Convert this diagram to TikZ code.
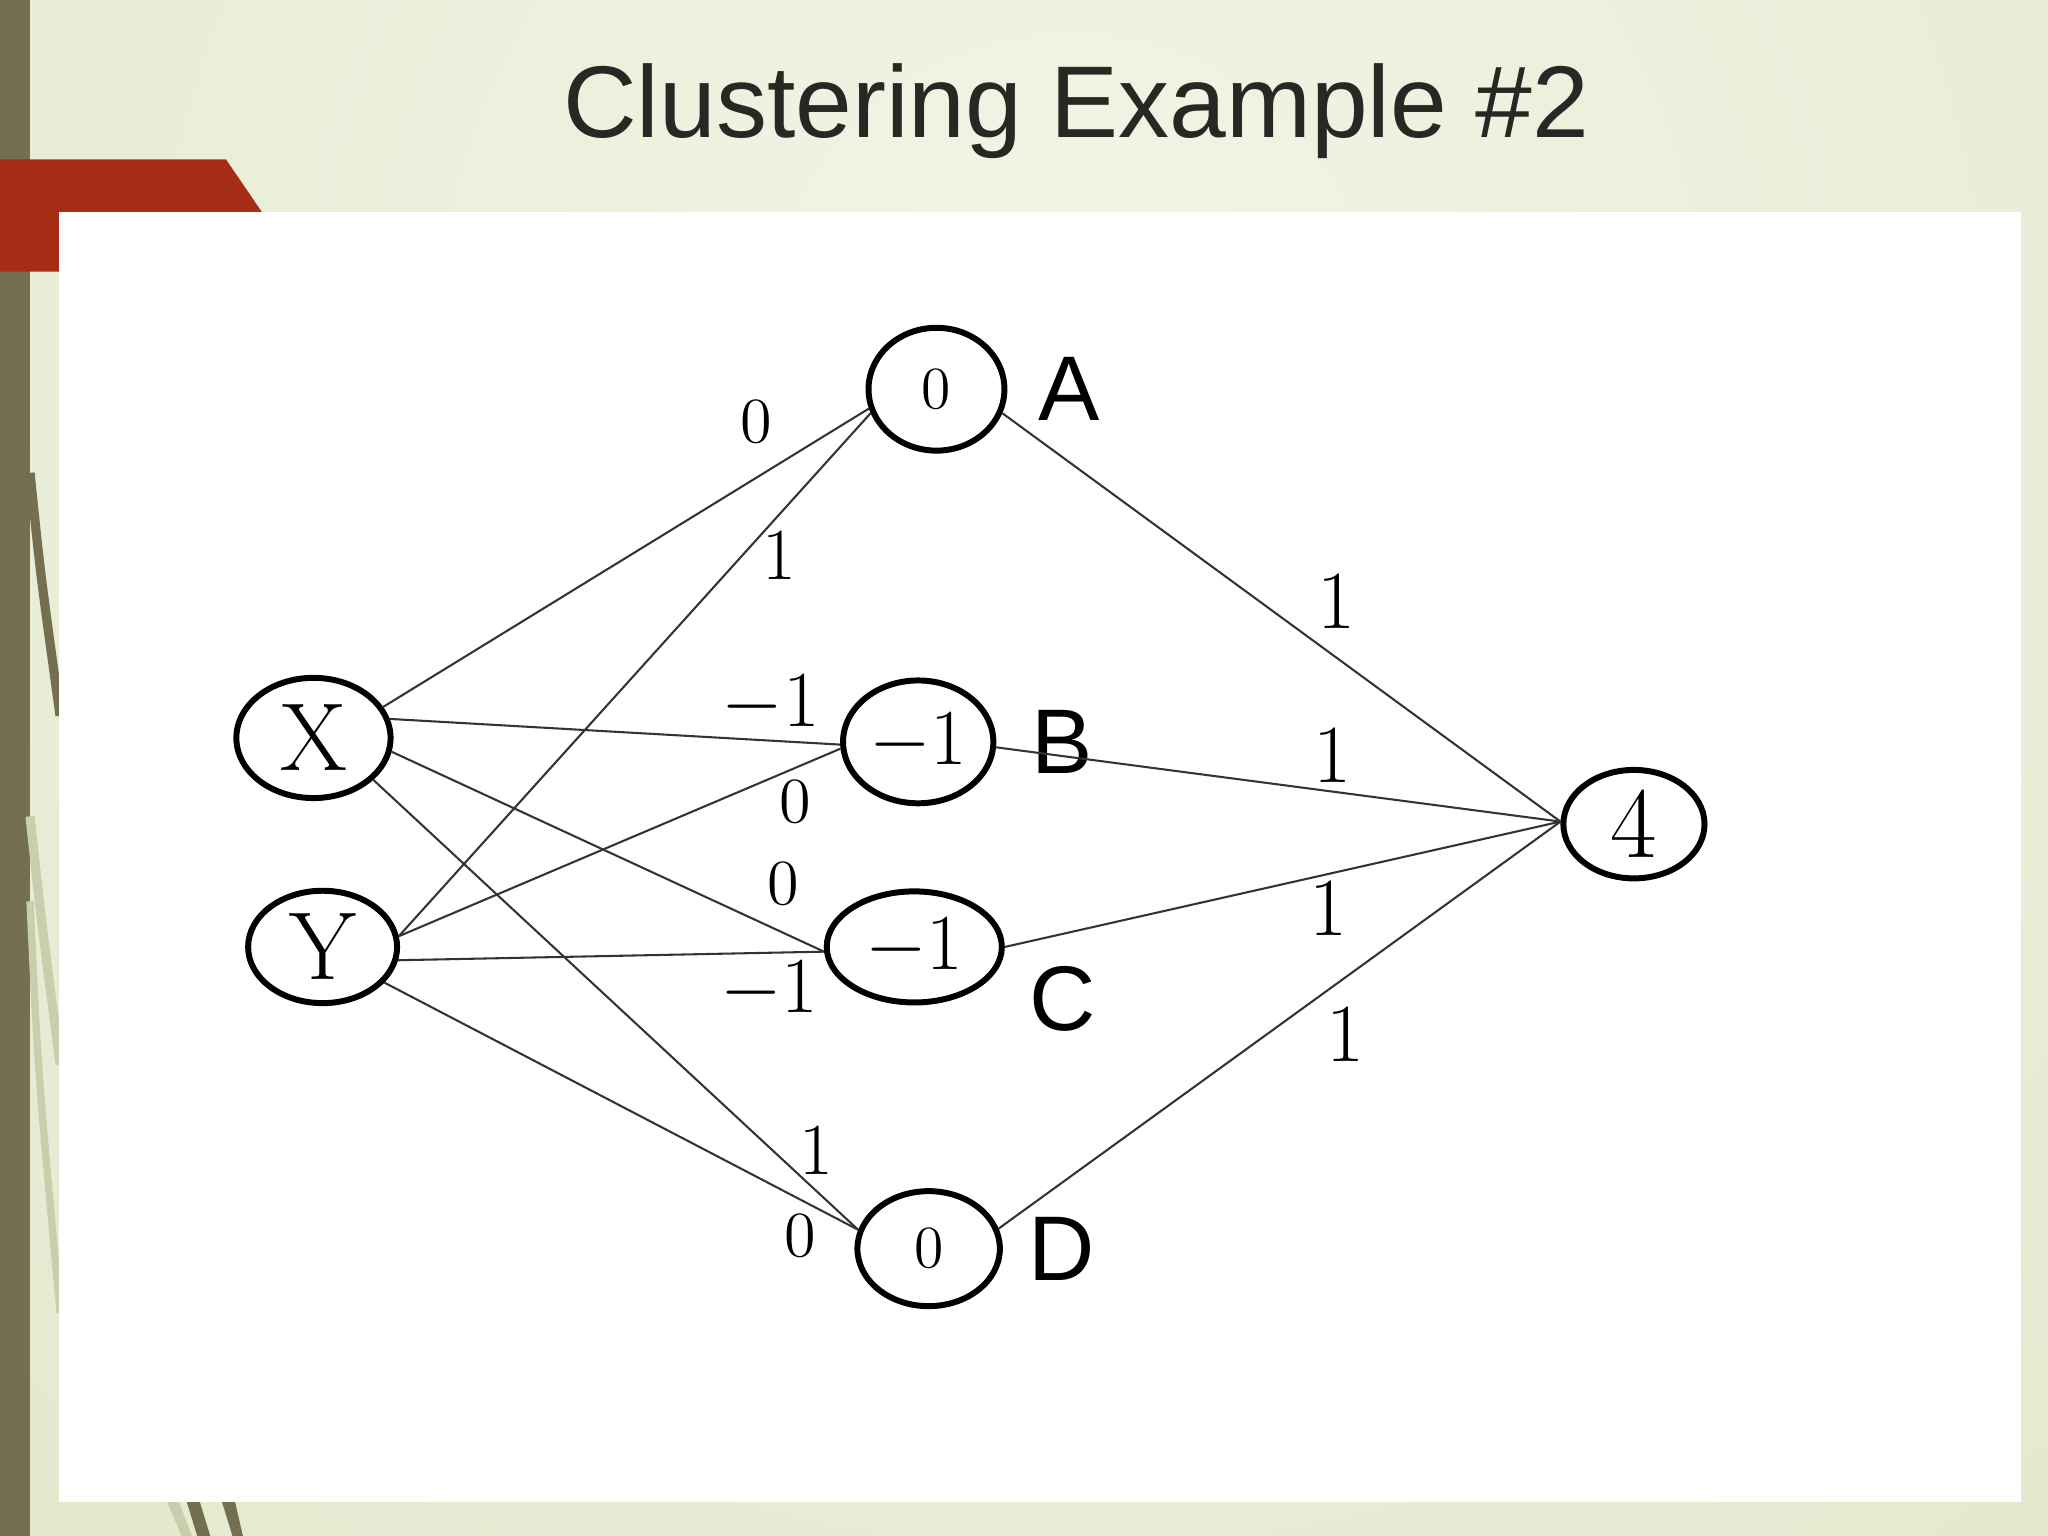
\documentclass[tikz,border=0pt]{standalone}
\usepackage{fontspec}
\usepackage{tikz}
\usetikzlibrary{positioning,shapes.geometric}
\newfontfamily\slidefont{Liberation Sans}
\definecolor{bgdark}{RGB}{224,231,201}
\definecolor{bglight}{RGB}{241,245,230}
\definecolor{barcol}{RGB}{117,111,82}
\definecolor{barlight}{RGB}{201,206,172}
\definecolor{redcol}{RGB}{166,46,22}
\definecolor{titlecol}{RGB}{38,40,36}
\begin{document}
\begin{tikzpicture}[x=0.01cm,y=-0.01cm,
	handnode/.style={ellipse,draw,line width=1.3pt,inner sep=0pt,font=\fontsize{18}{20}\selectfont},
	letter/.style={inner sep=0pt,font=\slidefont\fontsize{20}{22}\selectfont},
	weight/.style={inner sep=0pt,font=\fontsize{16}{18}\selectfont},
	zero/.style={inner sep=0pt,font=\fontsize{14}{16}\selectfont},
	wire/.style={draw=black!80,line width=0.45pt}]
			\useasboundingbox (0,0) rectangle (1568,1176);
			% slide background
			\begin{scope}
				\clip (0,0) rectangle (1568,1176);
				\shade[inner color=bglight,outer color=bgdark] (820,260) circle (1500);
			\end{scope}
			\fill[barcol] (0,0) rectangle (23,1176);
			\draw[barcol,line width=2pt] (23,362) .. controls (31,440) .. (46,548);
			\draw[barlight,line width=2pt] (23,625) .. controls (31,700) .. (46,815);
			\draw[barlight,line width=1.6pt] (23,690) .. controls (29,820) .. (46,1005);
			\fill[redcol] (0,122) -- (173,122) -- (203,166) -- (203,208) -- (0,208) -- cycle;
			\fill[white] (45,162) rectangle (1547,1150);
			\fill[barlight] (128,1150) -- (137,1150) -- (147,1176) -- (139,1176) -- cycle;
			\fill[barcol] (143,1150) -- (153,1150) -- (161,1176) -- (151,1176) -- cycle;
			\fill[barcol] (170,1150) -- (180,1150) -- (186,1176) -- (178,1176) -- cycle;

			\node[anchor=base,text=titlecol,font=\slidefont\fontsize{22.2}{26}\selectfont] (title) at (824,105) {Clustering Example \#2};

			% inputs
			\node[handnode,minimum width=1.18cm,minimum height=0.92cm,font=\fontsize{21}{24}\selectfont]	(in0)	at (240,565)	{X};
			\node[handnode,minimum width=1.14cm,minimum height=0.86cm,font=\fontsize{21}{24}\selectfont]	(in1)	at (247,725)	{Y};

			% hidden layer
			\node[handnode,minimum width=1.04cm,minimum height=0.94cm,font=\fontsize{13}{15}\selectfont]	(h0)	at (717,298)	{0};
			\node[handnode,minimum width=1.15cm,minimum height=0.94cm]	(h1)	at (703,568)	{$-1$};
			\node[handnode,minimum width=1.34cm,minimum height=0.85cm]	(h2)	at (700,725)	{$-1$};
			\node[handnode,minimum width=1.09cm,minimum height=0.88cm,font=\fontsize{13}{15}\selectfont]	(h3)	at (711,956)	{0};

			% output
			\node[handnode,minimum width=1.08cm,minimum height=0.83cm,font=\fontsize{22}{24}\selectfont]	(o0)	at (1251,631)	{4};

			\node[letter,node distance=2.3mm,right=of h0]				(la)	{A};
			\node[letter,node distance=2.6mm,right=of h1]				(lb)	{B};
			\node[letter,node distance=1.8mm,right=of h2,yshift=-4mm]	(lc)	{C};
			\node[letter,node distance=1.9mm,right=of h3]				(ld)	{D};

			\draw[wire] (in0.24) -- (h0.196);
			\draw[wire] (in1.8) -- (h0.200);
			\draw[wire] (in0.14) -- (h1.182);
			\draw[wire] (in1.8) -- (h1.185);
			\draw[wire] (in0.350) -- (h2.183);
			\draw[wire] (in1.350) -- (h2.183);
			\draw[wire] (in0.325) -- (h3.165);
			\draw[wire] (in1.330) -- (h3.165);
			\draw[wire] (h0.340) -- (o0.178);
			\draw[wire] (h1.356) -- (o0.178);
			\draw[wire] (h2.0) -- (o0.178);
			\draw[wire] (h3.16) -- (o0.178);

			% weights
			\node[zero]		(w0)	at (579,323)	{0};
			\node[weight]	(w1)	at (597,425)	{1};
			\node[weight]	(w2)	at (590,539)	{$-1$};
			\node[zero]		(w3)	at (609,614)	{0};
			\node[zero]		(w4)	at (600,677)	{0};
			\node[weight]	(w5)	at (589,758)	{$-1$};
			\node[weight]	(w6)	at (625,881)	{1};
			\node[zero]		(w7)	at (613,946)	{0};
			\node[weight,font=\fontsize{18}{20}\selectfont]	(w8)	at (1023,460)	{1};
			\node[weight,font=\fontsize{18}{20}\selectfont]	(w9)	at (1020,578)	{1};
			\node[weight,font=\fontsize{18}{20}\selectfont]	(w10)	at (1017,695)	{1};
			\node[weight,font=\fontsize{18}{20}\selectfont]	(w11)	at (1030,792)	{1};
		\end{tikzpicture}
\end{document}
